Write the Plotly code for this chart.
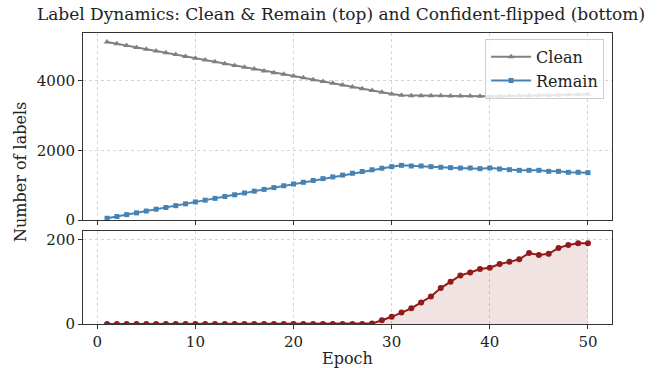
import plotly.graph_objects as go
from plotly.subplots import make_subplots

epochs = list(range(1, 51))
clean = [5122, 5070, 5018, 4966, 4914, 4862, 4810, 4758, 4706, 4653,
         4601, 4550, 4498, 4446, 4394, 4342, 4290, 4238, 4190, 4144,
         4090, 4038, 3986, 3934, 3882, 3830, 3778, 3726, 3674, 3626,
         3587, 3578, 3578, 3575, 3572, 3570, 3568, 3565, 3560, 3549,
         3560, 3568, 3572, 3575, 3580, 3585, 3592, 3600, 3610, 3615]
remain = [50, 100, 155, 205, 258, 310, 360, 412, 465, 520,
          570, 622, 675, 725, 778, 830, 880, 932, 985, 1036,
          1085, 1138, 1190, 1240, 1292, 1345, 1395, 1445, 1490, 1535,
          1573, 1554, 1554, 1535, 1516, 1506, 1496, 1496, 1477, 1496,
          1468, 1448, 1429, 1429, 1429, 1400, 1400, 1372, 1372, 1362]
flipped = [0, 0, 0, 0, 0, 0, 0, 0, 0, 0,
           0, 0, 0, 0, 0, 0, 0, 0, 0, 0,
           0, 0, 0, 0, 0, 0, 0, 1, 9, 17,
           27, 37, 51, 65, 85, 100, 115, 122, 130, 133,
           142, 147, 153, 168, 163, 166, 180, 187, 191, 191]

FONT = "DejaVu Serif"
W, H = 662, 368
L, R, T, B = 83, 612, 33, 324

fig = make_subplots(rows=2, cols=1, shared_xaxes=True)

fig.add_trace(go.Scatter(x=epochs, y=clean, name="Clean", mode="lines+markers",
                         line=dict(color="#808080", width=2),
                         marker=dict(symbol="triangle-up", size=6, color="#808080")),
              row=1, col=1)
fig.add_trace(go.Scatter(x=epochs, y=remain, name="Remain", mode="lines+markers",
                         line=dict(color="#4682B4", width=2),
                         marker=dict(symbol="square", size=5, color="#4682B4")),
              row=1, col=1)
fig.add_trace(go.Scatter(x=epochs, y=flipped, name="Confident-flipped", mode="lines+markers",
                         fill="tozeroy", fillcolor="rgba(146,26,26,0.12)",
                         line=dict(color="#921a1a", width=2),
                         marker=dict(symbol="circle", size=6, color="#921a1a"),
                         showlegend=False),
              row=2, col=1)

ph = B - T
top_dom = [(B - 220) / ph, 1]
bot_dom = [0, (B - 231) / ph]

axcommon = dict(showline=True, linecolor="#333333", linewidth=1, mirror=True,
                ticks="outside", ticklen=4, tickcolor="#333333", automargin=False,
                showgrid=True, gridcolor="#d4d4d4", griddash="dot", gridwidth=1,
                zeroline=False, tickfont=dict(family=FONT, size=15, color="#222222"))

fig.update_xaxes(range=[-1.45, 52.45], tickvals=[0, 10, 20, 30, 40, 50], **axcommon)
fig.update_xaxes(showticklabels=False, row=1, col=1)
fig.update_yaxes(**axcommon)
fig.update_yaxes(range=[0, 5380], tickvals=[0, 2000, 4000], domain=top_dom, row=1, col=1)
fig.update_yaxes(range=[0, 220], tickvals=[0, 200], domain=bot_dom, row=2, col=1)

fig.update_layout(
    width=W, height=H,
    margin=dict(l=L, r=W - R, t=T, b=H - B),
    paper_bgcolor="white", plot_bgcolor="white",
    font=dict(family=FONT, color="#222222"),
    title=dict(text="Label Dynamics: Clean & Remain (top) and Confident-flipped (bottom)",
               font=dict(family=FONT, size=17, color="#222222"),
               x=341 / W, xanchor="center", xref="container",
               y=1 - 14 / H, yanchor="middle", yref="container"),
    legend=dict(x=0.985, y=0.98, xanchor="right", yanchor="top",
                bgcolor="rgba(255,255,255,0.8)", bordercolor="#cccccc", borderwidth=1,
                font=dict(family=FONT, size=16, color="#222222"),
                tracegroupgap=0, itemwidth=40),
    annotations=[
        dict(text="Number of labels", x=(20 - L) / (R - L), y=(B - 172) / ph,
             xref="paper", yref="paper", showarrow=False, textangle=-90,
             font=dict(family=FONT, size=16, color="#222222"),
             xanchor="center", yanchor="middle"),
        dict(text="Epoch", x=(347 - L) / (R - L), y=-(358 - B) / ph,
             xref="paper", yref="paper", showarrow=False,
             font=dict(family=FONT, size=16, color="#222222"),
             xanchor="center", yanchor="middle"),
    ],
    showlegend=True,
)

fig.write_html("out.html")
